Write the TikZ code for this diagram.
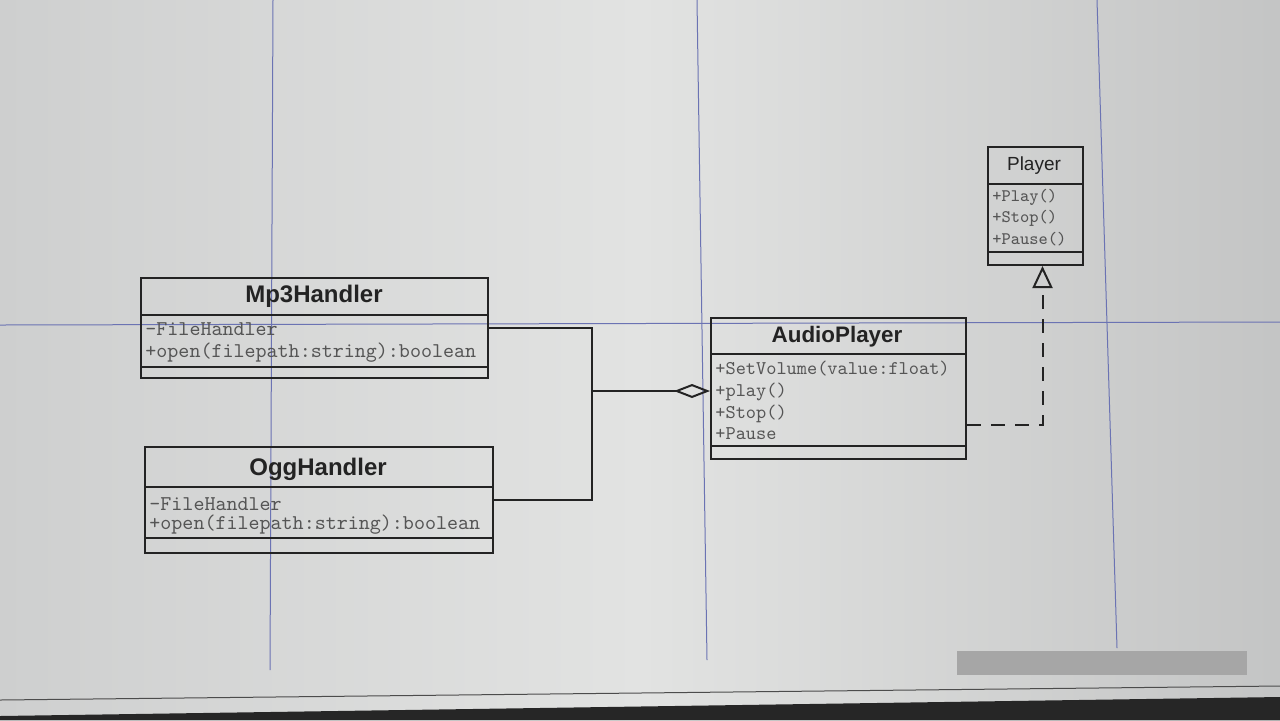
\documentclass[tikz,border=0pt]{standalone}
\usepackage{fontspec}
\setmainfont{Liberation Sans}
\usetikzlibrary{arrows.meta,calc}
\definecolor{bgA}{RGB}{206,207,207}
\definecolor{bgB}{RGB}{226,227,226}
\definecolor{guide}{RGB}{70,80,160}
\definecolor{ink}{RGB}{35,35,35}
\definecolor{memb}{RGB}{85,85,85}
\tikzset{
  cls/.style={draw=ink, line width=1pt, inner sep=0pt, anchor=north west},
  title/.style={font=\bfseries\fontsize{12}{12}\selectfont, text=ink, inner sep=0pt},
  member/.style={font=\ttfamily\fontsize{10.5}{10.5}\selectfont, text=memb, anchor=west, inner sep=0pt, text height=6.8pt, text depth=1.6pt},
  apmember/.style={member, font=\ttfamily\fontsize{9.7}{9.7}\selectfont},
  plmember/.style={member, font=\ttfamily\fontsize{8.8}{8.8}\selectfont, text height=5.8pt, text depth=1.4pt},
  divider/.style={draw=ink, line width=1pt},
  guideline/.style={draw=guide!80, line width=0.5pt},
  conn/.style={draw=ink, line width=1pt},
}
\begin{document}
\begin{tikzpicture}[x=0.5pt,y=-0.5pt]
\useasboundingbox (0,0) rectangle (1280,720);
\shade[left color=bgA, right color=bgA!95!black, middle color=bgB] (0,0) rectangle (1280,720);
% guide lines
\draw[guideline] (273,0) -- (270,670);
\draw[guideline] (697,0) -- (707,660);
\draw[guideline] (1097,0) -- (1117,648);
\draw[guideline] (0,325) -- (1280,322);
% scrollbar and taskbar
\fill[gray!70] (957,651) rectangle (1247,675);
\draw[gray!60!black, line width=0.5pt] (0,700) -- (1280,686);
\fill[black!85] (0,720) -- (0,716) -- (1280,697) -- (1280,720) -- cycle;

% Mp3Handler
\node[cls, minimum width=173.5pt, minimum height=50pt] (mp3) at (140,277) {};
\node[title] (mp3t) at (314,296) {Mp3Handler};
\draw[divider] (140,315) -- (487,315);
\node[member] (mp3a) at (145,330) {-FileHandler};
\node[member] (mp3b) at (145,352) {+open(filepath:string):boolean};
\draw[divider] (140,367) -- (487,367);

% OggHandler
\node[cls, minimum width=174pt, minimum height=53pt] (ogg) at (144,446) {};
\node[title] (oggt) at (318,469) {OggHandler};
\draw[divider] (144,487) -- (492,487);
\node[member] (ogga) at (149,505) {-FileHandler};
\node[member] (oggb) at (149,524) {+open(filepath:string):boolean};
\draw[divider] (144,538) -- (492,538);

% AudioPlayer
\node[cls, minimum width=127.5pt, minimum height=70.5pt] (ap) at (710,317) {};
\node[title, font=\bfseries\fontsize{11.2}{11.2}\selectfont] (apt) at (837,337) {AudioPlayer};
\draw[divider] (710,354) -- (965,354);
\node[apmember] (ap1) at (715,369) {+SetVolume(value:float)};
\node[apmember] (ap2) at (715,391) {+play()};
\node[apmember] (ap3) at (715,413) {+Stop()};
\node[apmember] (ap4) at (715,434) {+Pause};
\draw[divider] (710,446) -- (965,446);

% Player
\node[cls, minimum width=47.5pt, minimum height=59pt] (pl) at (987,146) {};
\node[title, font=\fontsize{9.5}{9.5}\selectfont] (plt) at (1034,166) {Player};
\draw[divider] (987,184) -- (1082,184);
\node[plmember] (pl1) at (992,197) {+Play()};
\node[plmember] (pl2) at (992,218) {+Stop()};
\node[plmember] (pl3) at (992,240) {+Pause()};
\draw[divider] (987,252) -- (1082,252);

% aggregation
\coordinate (j) at (592,391);
\draw[conn] (mp3.east) -| (j);
\draw[conn] (ogg.east) -| (j);
\draw[conn, {Diamond[open, length=18pt, width=7pt, line width=1pt]}-] ([yshift=-37pt]ap.north west) -- (j);

% realization
\draw[conn, dash pattern=on 7pt off 5pt, -{Triangle[open, length=11pt, width=10pt, line width=1pt]}]
  ([yshift=-54pt]ap.north east) -| ([xshift=3.5pt]pl.south);
\end{tikzpicture}
\end{document}
